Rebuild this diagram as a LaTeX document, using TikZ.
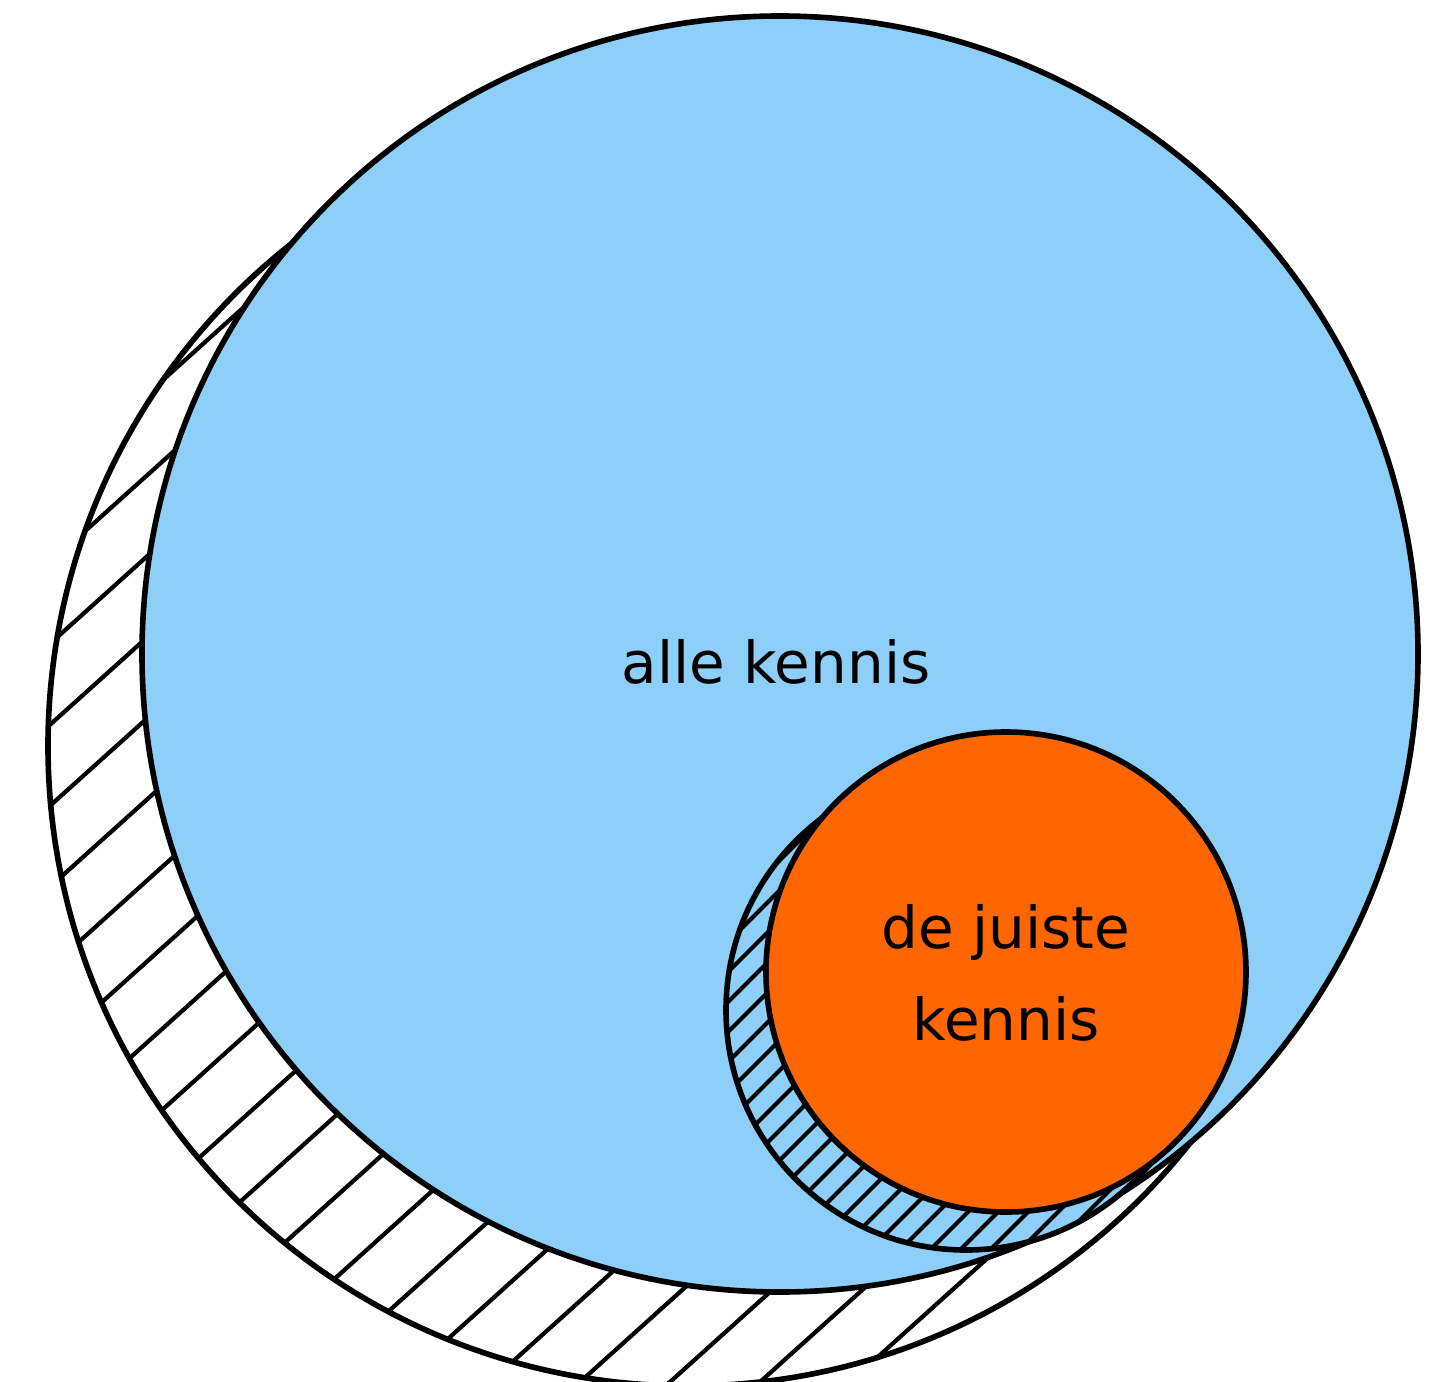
\documentclass[tikz,border=0pt]{standalone}
\usepackage{fontspec}
\setmainfont{DejaVu Sans}
\definecolor{kennisblue}{RGB}{141,207,248}
\definecolor{juistorange}{RGB}{255,102,0}
\begin{document}
\begin{tikzpicture}[x=0.02cm,y=-0.02cm,line width=3.2pt,every node/.style={font=\fontsize{33}{52}\selectfont,inner sep=1pt}]
\useasboundingbox (0,0) rectangle (1441,1382);
% hatched shadow of the big circle
\fill[white] (688,746) circle (640);
\begin{scope}
\clip (688,746) circle (640);
\foreach \i in {-1600,-1510,...,1500}
  \draw[line width=2.4pt] (\i,1400) -- ++(1555,-1400);
\end{scope}
\draw (688,746) circle (640);
% big circle
\filldraw[fill=kennisblue] (780,654) circle (638);
% hatched shadow of the small circle
\fill[kennisblue] (966,1010) circle (240);
\begin{scope}
\clip (966,1010) circle (240);
\foreach \i in {100,130,...,1300}
  \draw[line width=2.4pt] (\i,1300) -- ++(600,-600);
\end{scope}
\draw (966,1010) circle (240);
% small circle
\filldraw[fill=juistorange] (1006,972) circle (240);
\node[anchor=base] (allekennis) at (776,683) {alle kennis};
\node[align=center] (juistekennis) at (1006,973) {de juiste\\kennis};
\end{tikzpicture}
\end{document}
